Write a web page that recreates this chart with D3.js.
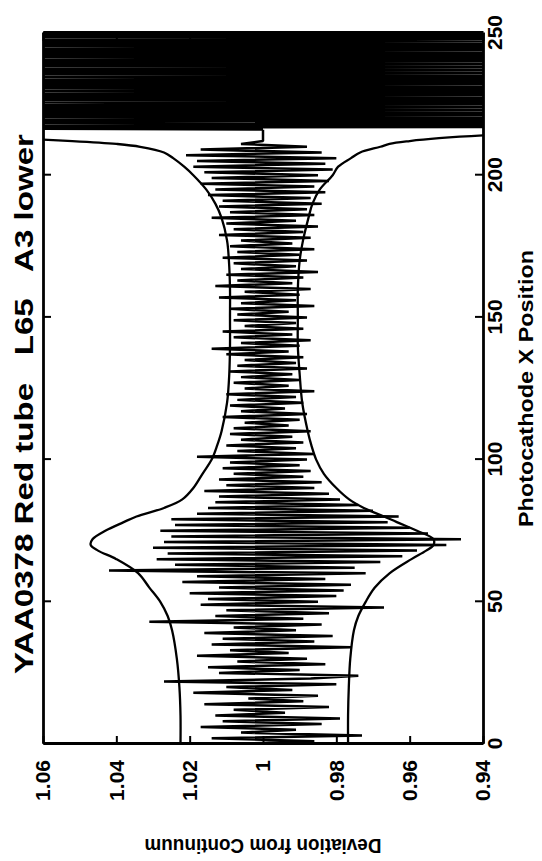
<!DOCTYPE html>
<html>
<head>
<meta charset="utf-8">
<script src="https://cdn.jsdelivr.net/npm/d3@7"></script>
<style>
  body { margin: 0; background: #fff; }
  svg { display: block; }
  text { font-family: "Liberation Sans", Arial, Helvetica, sans-serif; font-weight: bold; fill: #000; }
</style>
</head>
<body>
<svg id="chart"></svg>
<script>
// measured deviation, one value per photocathode x position (0..216)
var noiseA = [1.009, 0.986, 1.014, 0.973, 1.006, 0.991, 1.017, 0.984, 1.011, 0.979,
  1.013, 0.994, 1.008, 0.982, 1.016, 0.989, 1.004, 0.985, 1.019, 0.992,
  1.010, 0.980, 1.027, 0.987, 0.974, 1.012, 0.990, 1.015, 0.983, 1.007,
  0.988, 1.018, 0.993, 1.009, 0.976, 1.014, 0.986, 1.011, 0.981, 1.016,
  0.991, 1.008, 0.984, 1.031, 0.989, 1.013, 0.982, 1.010, 0.967, 1.017];
var noiseB = [0.985, 1.015, 0.980, 1.020, 0.978, 1.012, 0.976, 1.022, 0.983, 1.018,
  0.972, 1.042, 0.975, 1.024, 0.968, 1.029, 0.962, 1.026, 0.958, 1.030,
  0.950, 1.027, 0.946, 1.025, 0.955, 1.028, 0.960, 1.024, 0.966, 1.025,
  0.963, 1.018, 0.970, 1.015, 0.974, 1.013, 0.979, 1.012, 0.982, 1.016,
  0.986, 1.010, 0.984, 1.012, 0.989, 1.008, 0.987, 1.011, 0.990, 1.009];
var noiseC = [0.988, 1.018, 0.986, 1.007, 0.991, 1.010, 0.989, 1.006, 0.992, 1.009,
  0.987, 1.008, 0.993, 1.005, 0.990, 1.011, 0.988, 1.006, 0.994, 1.009,
  0.989, 1.007, 0.991, 1.010, 0.986, 1.005, 0.993, 1.008, 0.990, 1.006,
  0.992, 1.009, 0.988, 1.007, 0.991, 1.005, 0.989, 1.010, 0.993, 1.014,
  0.990, 1.006, 0.987, 1.008, 0.992, 1.011, 0.989, 1.005, 0.991, 1.008];
var noiseD = [0.988, 1.007, 0.993, 1.009, 0.986, 1.006, 0.991, 1.012, 0.990, 1.005,
  0.987, 1.013, 0.992, 1.007, 0.989, 1.010, 0.985, 1.006, 0.991, 1.008,
  0.988, 1.011, 0.990, 1.007, 0.986, 1.009, 0.992, 1.006, 0.987, 1.012,
  0.989, 1.008, 0.985, 1.010, 0.991, 1.014, 0.986, 1.009, 0.988, 1.012,
  0.984, 1.011, 0.987, 1.015, 0.983, 1.013, 0.986, 1.017, 0.982, 1.014];
var noiseE = [0.985, 1.016, 0.981, 1.019, 0.983, 1.018, 0.980, 1.021, 0.984, 1.017,
  0.988, 1.006, 1.000, 1.000, 1.000, 1.000, 1.000];

// tube edge, sampled every half unit from 216.5 to 250 (mostly off scale)
var edgeStart = 216, edgeStep = 0.5;
var noiseF = [1.11, 0.91, 1.08, 0.89, 1.13, 0.92, 1.07, 0.90, 1.10, 0.93,
  1.09, 0.88, 1.12, 0.91, 1.08, 0.90, 1.14, 0.92, 1.07, 0.89,
  1.10, 0.91, 1.12, 0.93, 1.08, 0.90, 1.11, 0.88, 1.09, 0.92,
  1.13, 0.90, 1.08, 0.91, 1.12, 0.89, 1.07, 0.92, 1.10, 0.90,
  1.09, 0.93, 1.11, 0.88, 1.08, 0.91, 1.13, 0.90, 1.07, 0.92,
  1.10, 0.89, 1.12, 0.91, 1.09, 0.93, 1.08, 0.90, 1.11, 0.88,
  1.14, 0.92, 1.07, 0.90, 1.10, 0.91, 1.12, 0.89];

// envelope curves
var envPos = [0, 10, 20, 30, 40, 45, 50, 55, 60, 65, 68, 70, 72, 75, 78, 80, 83, 86, 90, 95,
  100, 105, 110, 120, 130, 140, 150, 160, 170, 177, 185, 190, 195, 200, 203, 206, 208, 210,
  211, 212, 213, 214, 215];
var envUpper = [1.0225, 1.0225, 1.0228, 1.0235, 1.0248, 1.026, 1.028, 1.031, 1.034, 1.040,
  1.045, 1.047, 1.0465, 1.043, 1.038, 1.0345, 1.027, 1.022, 1.019, 1.0165,
  1.014, 1.0125, 1.0113, 1.0098, 1.0092, 1.009, 1.009, 1.009, 1.0093, 1.0098,
  1.0113, 1.013, 1.0155, 1.019, 1.0215, 1.0245, 1.027, 1.0335, 1.040, 1.052,
  1.07, 1.10, 1.14];
var envLower = [0.9768, 0.9768, 0.9766, 0.9762, 0.9752, 0.974, 0.972, 0.9695, 0.9655, 0.9595,
  0.9555, 0.9535, 0.9535, 0.958, 0.9635, 0.967, 0.9725, 0.9765, 0.980, 0.9834,
  0.9855, 0.9868, 0.9878, 0.9893, 0.990, 0.9905, 0.9905, 0.9905, 0.990, 0.9891,
  0.9876, 0.9865, 0.9845, 0.981, 0.9795, 0.976, 0.9735, 0.968, 0.9655, 0.960,
  0.952, 0.940, 0.92];

var xTicks = [0, 50, 100, 150, 200, 250];
var yTicks = [0.94, 0.96, 0.98, 1, 1.02, 1.04, 1.06];
var yTickLabels = ["0.94", "0.96", "0.98", "1", "1.02", "1.04", "1.06"];

var svgWidth = 542, svgHeight = 861;
var box = { left: 43, right: 483, top: 33, bottom: 744 };
var width = box.bottom - box.top;   // position axis, drawn upward on the page
var height = box.right - box.left;  // deviation axis, drawn left to right

var svg = d3.select('#chart').attr('width', svgWidth).attr('height', svgHeight);

// the whole plot is turned a quarter turn anticlockwise
var g = svg.append('g')
  .attr('transform', 'translate(' + box.left + ',' + box.bottom + ') rotate(-90)');

var x = d3.scaleLinear().domain([0, 250]).range([0, width]);
var y = d3.scaleLinear().domain([0.94, 1.06]).range([height, 0]);

svg.append('defs').append('clipPath').attr('id', 'plotclip')
  .append('rect').attr('x', 0).attr('y', 0).attr('width', width).attr('height', height);

var series = noiseA.concat(noiseB, noiseC, noiseD, noiseE);
var edge = [series[series.length - 1]].concat(noiseF);

var plot = g.append('g').attr('clip-path', 'url(#plotclip)');

var line = d3.line().x(function(d, i) { return x(i); }).y(function(d) { return y(d); });
plot.append('path').datum(series)
  .attr('fill', 'none').attr('stroke', '#000').attr('stroke-width', 2.5)
  .attr('stroke-linejoin', 'bevel').attr('d', line);

var edgeLine = d3.line().x(function(d, i) { return x(edgeStart + i * edgeStep); })
  .y(function(d) { return y(d); });
plot.append('path').datum(edge)
  .attr('fill', 'none').attr('stroke', '#000').attr('stroke-width', 2.2)
  .attr('stroke-linejoin', 'bevel').attr('d', edgeLine);

var env = d3.line().curve(d3.curveCatmullRom)
  .x(function(d, i) { return x(envPos[i]); }).y(function(d) { return y(d); });
[envUpper, envLower].forEach(function(e) {
  plot.append('path').datum(e)
    .attr('fill', 'none').attr('stroke', '#000').attr('stroke-width', 2.3)
    .attr('d', env);
});

function styleAxis(a) {
  a.attr('font-size', null).attr('font-family', null);
  a.select('.domain').attr('stroke-width', 2.8);
  a.selectAll('.tick line').attr('stroke-width', 2);
  a.selectAll('.tick text').attr('font-size', 21);
}

var fmtY = function(d) { return yTickLabels[yTicks.indexOf(d)]; };

g.append('g').attr('transform', 'translate(0,' + height + ')')
  .call(d3.axisBottom(x).tickValues(xTicks).tickSizeInner(-8).tickSizeOuter(0).tickPadding(4))
  .call(styleAxis);
g.append('g')
  .call(d3.axisTop(x).tickValues(xTicks).tickSizeInner(-8).tickSizeOuter(0).tickFormat(''))
  .call(styleAxis);
g.append('g')
  .call(d3.axisLeft(y).tickValues(yTicks).tickSizeInner(-8).tickSizeOuter(0).tickPadding(16).tickFormat(fmtY))
  .call(styleAxis);
g.append('g').attr('transform', 'translate(' + width + ',0)')
  .call(d3.axisRight(y).tickValues(yTicks).tickSizeInner(-8).tickSizeOuter(0).tickFormat(''))
  .call(styleAxis);

g.append('text').attr('x', 340).attr('y', -10)
  .attr('text-anchor', 'middle').attr('font-size', 26)
  .attr('textLength', 540).attr('lengthAdjust', 'spacingAndGlyphs')
  .style('white-space', 'pre')
  .text('YAA0378 Red tube   L65   A3 lower');

g.append('text').attr('x', width / 2).attr('y', height + 50)
  .attr('text-anchor', 'middle').attr('font-size', 21)
  .attr('textLength', 277).attr('lengthAdjust', 'spacingAndGlyphs')
  .text('Photocathode X Position');

g.append('text').attr('transform', 'translate(-95,' + (height / 2) + ') rotate(-90)')
  .attr('text-anchor', 'middle').attr('font-size', 21)
  .attr('textLength', 237).attr('lengthAdjust', 'spacingAndGlyphs')
  .text('Deviation from Continuum');
</script>
</body>
</html>
